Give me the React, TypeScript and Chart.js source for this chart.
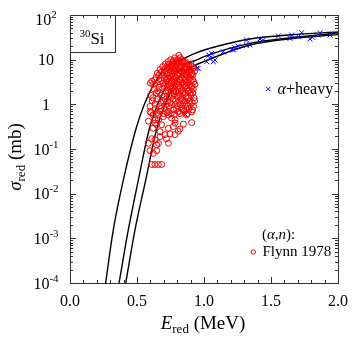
import React, { useEffect, useRef } from "react";
import { Chart, registerables } from "chart.js";
Chart.register(...registerables);

// ---- data ----
const xTickLabels = ["0.0", "0.5", "1.0", "1.5", "2.0"];
const xTickValues = [0, 0.5, 1.0, 1.5, 2.0];
const yTickExponents = [2, 1, 0, -1, -2, -3, -4];

const curve1E = [0.266, 0.323, 0.398, 0.49, 0.555, 0.645, 0.74, 0.85, 0.933, 1.1, 1.343, 1.65, 2.0];
const curve1S = [1e-4, 1.54e-3, 0.0202, 0.267, 1.0, 3.5, 7.6, 10.7, 13.9, 20, 29, 36, 41.6];
const curve2E = [0.366, 0.435, 0.51, 0.59, 0.655, 0.745, 0.86, 0.95, 1.0, 1.343, 1.65, 2.0];
const curve2S = [1e-4, 1.54e-3, 0.0202, 0.267, 1.0, 3.5, 7.6, 10, 11.7, 23.2, 31, 38.9];
const curve3E = [0.416, 0.485, 0.565, 0.645, 0.71, 0.8, 0.92, 1.0, 1.343, 1.65, 2.0];
const curve3S = [1e-4, 1.54e-3, 0.0202, 0.267, 1.0, 3.5, 7.1, 9.1, 21.3, 29.5, 36.3];

const flynn1978: [number, number][] = [
  [0.600, 3.0], [0.602, 1.6], [0.598, 0.9], [0.604, 0.65],
  [0.612, 3.3], [0.614, 1.2],
  [0.622, 2.8], [0.618, 1.4],
  [0.632, 3.5], [0.628, 2.2], [0.634, 1.0],
  [0.642, 4.0], [0.646, 1.8], [0.638, 0.8],
  [0.652, 5.0], [0.654, 2.0], [0.65, 1.3],
  [0.662, 4.5], [0.664, 2.4], [0.666, 0.9],
  [0.672, 6.0], [0.674, 2.8], [0.67, 1.8], [0.676, 1.1], [0.672, 0.7],
  [0.682, 5.2], [0.684, 3.4], [0.686, 1.6], [0.68, 0.8],
  [0.692, 7.0], [0.688, 4.5], [0.694, 3.0], [0.696, 1.2],
  [0.702, 6.0], [0.704, 3.8], [0.7, 2.5], [0.706, 1.5], [0.698, 0.62],
  [0.712, 8.0], [0.708, 5.5], [0.714, 4.2], [0.716, 2.0], [0.712, 1.3], [0.708, 0.8],
  [0.722, 7.0], [0.724, 4.8], [0.72, 3.4], [0.726, 2.4], [0.718, 1.0], [0.724, 0.65],
  [0.732, 9.0], [0.728, 6.5], [0.734, 5.0], [0.73, 3.8], [0.736, 2.8], [0.732, 2.0], [0.728, 1.2], [0.734, 0.7],
  [0.742, 8.0], [0.738, 6.0], [0.744, 4.4], [0.74, 3.2], [0.746, 2.2], [0.742, 1.5], [0.738, 0.9],
  [0.752, 10.0], [0.748, 7.0], [0.754, 5.5], [0.75, 4.0], [0.756, 2.6], [0.752, 1.8], [0.748, 1.1], [0.754, 0.62],
  [0.762, 8.5], [0.758, 6.5], [0.764, 4.8], [0.76, 3.5], [0.766, 2.4], [0.762, 1.6], [0.758, 1.0],
  [0.772, 9.5], [0.768, 7.5], [0.774, 5.8], [0.77, 4.2], [0.776, 3.0], [0.772, 2.0], [0.768, 1.3], [0.774, 0.75],
  [0.782, 11.0], [0.778, 8.0], [0.784, 6.5], [0.78, 5.0], [0.786, 3.6], [0.782, 2.5], [0.778, 1.7], [0.784, 1.0], [0.78, 0.6],
  [0.792, 9.0], [0.788, 7.0], [0.794, 5.5], [0.79, 4.0], [0.796, 2.8], [0.792, 1.9], [0.788, 1.2], [0.794, 0.8],
  [0.802, 10.0], [0.798, 8.0], [0.804, 6.0], [0.8, 4.5], [0.806, 3.2], [0.802, 2.2], [0.798, 1.5], [0.804, 0.9],
  [0.812, 12.5], [0.808, 9.0], [0.814, 7.0], [0.81, 5.0], [0.816, 3.6], [0.812, 2.6], [0.808, 1.8], [0.814, 1.1], [0.81, 0.7],
  [0.822, 11.0], [0.818, 8.5], [0.824, 6.5], [0.82, 4.8], [0.826, 3.4], [0.822, 2.4], [0.818, 1.6], [0.824, 1.0], [0.82, 0.62],
  [0.832, 10.0], [0.828, 7.5], [0.834, 5.5], [0.83, 4.0], [0.836, 3.0], [0.832, 2.0], [0.828, 1.3], [0.834, 0.8],
  [0.842, 9.5], [0.838, 7.0], [0.844, 5.2], [0.84, 3.8], [0.846, 2.7], [0.842, 1.8], [0.838, 1.2], [0.844, 0.75],
  [0.852, 8.5], [0.848, 6.5], [0.854, 4.8], [0.85, 3.5], [0.856, 2.5], [0.852, 1.7], [0.848, 1.1], [0.854, 0.7],
  [0.862, 9.0], [0.858, 7.0], [0.864, 5.0], [0.86, 3.6], [0.866, 2.6], [0.862, 1.8], [0.858, 1.2], [0.864, 0.8],
  [0.872, 8.0], [0.868, 6.0], [0.874, 4.5], [0.87, 3.2], [0.876, 2.3], [0.872, 1.5], [0.868, 1.0], [0.874, 0.62],
  [0.882, 7.5], [0.878, 5.5], [0.884, 4.0], [0.88, 3.0], [0.886, 2.0], [0.882, 1.4], [0.878, 0.9],
  [0.892, 7.0], [0.888, 5.0], [0.894, 3.8], [0.89, 2.7], [0.896, 1.8], [0.892, 1.2], [0.888, 0.8],
  [0.902, 8.0], [0.898, 6.0], [0.904, 4.5], [0.9, 3.4], [0.906, 2.4], [0.902, 1.6], [0.898, 1.0],
  [0.912, 7.0], [0.908, 5.0], [0.914, 3.6], [0.91, 2.6], [0.916, 1.8], [0.912, 1.1],
  [0.922, 6.5], [0.918, 4.6], [0.924, 3.2], [0.92, 2.2], [0.926, 1.4], [0.922, 0.9],
  [0.93, 5.5], [0.932, 2.8], [0.93, 1.2], [0.915, 0.75],
  // lower tail
  [0.908, 0.39], [0.908, 0.68], [0.87, 0.58], [0.584, 0.134], [0.61, 0.17], [0.66, 0.134],
  [0.672, 0.19], [0.709, 0.21], [0.72, 0.17], [0.734, 0.134], [0.746, 0.22], [0.784, 0.21],
  [0.808, 0.25], [0.82, 0.28], [0.734, 0.29], [0.771, 0.32], [0.784, 0.38], [0.846, 0.36],
  [0.684, 0.35], [0.66, 0.45], [0.634, 0.38], [0.62, 0.29], [0.66, 0.58], [0.696, 0.53],
  [0.734, 0.58], [0.759, 0.49], [0.784, 0.45], [0.647, 0.63], [0.808, 0.68], [0.597, 0.092],
  [0.647, 0.092], [0.597, 0.69], [0.62, 0.58], [0.634, 0.45], [0.647, 0.35], [0.672, 0.245],
  [0.634, 0.16], [0.647, 0.124], [0.622, 0.08], [0.585, 0.42],
  [0.61, 0.045], [0.634, 0.045], [0.659, 0.045], [0.684, 0.045],
];

const alphaHeavy: [number, number][] = [
  [0.957, 6.4], [0.946, 6.4], [1.02, 9.0], [1.037, 12.7], [1.045, 10.7], [1.057, 13.9], [1.07, 9.0],
  [1.082, 9.8], [1.144, 15], [1.207, 17], [1.22, 16.5], [1.231, 18.5], [1.256, 20], [1.318, 21],
  [1.343, 21.5], [1.318, 27.5], [1.418, 29], [1.443, 27.5], [1.555, 34], [1.642, 30], [1.654, 35.6],
  [1.704, 32.7], [1.729, 40], [1.79, 29], [1.81, 31.6], [1.853, 35.6], [1.866, 40], [1.94, 35.6],
  [0.86, 0.6],
];

const FONT = '"Liberation Serif", "Times New Roman", "DejaVu Serif", serif';

type Part = { t: string; size: number; dy?: number; italic?: boolean };

function drawRich(ctx: CanvasRenderingContext2D, parts: Part[], x: number, y: number, align: "left" | "center" | "right") {
  let w = 0;
  const widths: number[] = [];
  for (const p of parts) {
    ctx.font = `${p.italic ? "italic " : ""}${p.size}px ${FONT}`;
    const m = ctx.measureText(p.t).width;
    widths.push(m);
    w += m;
  }
  let cx = align === "left" ? x : align === "center" ? x - w / 2 : x - w;
  ctx.textAlign = "left";
  ctx.textBaseline = "alphabetic";
  parts.forEach((p, i) => {
    ctx.font = `${p.italic ? "italic " : ""}${p.size}px ${FONT}`;
    ctx.fillText(p.t, cx, y + (p.dy || 0));
    cx += widths[i];
  });
}

const decorPlugin = {
  id: "decor",
  afterDatasetsDraw(chart: any) {
    const ctx: CanvasRenderingContext2D = chart.ctx;
    const { left, right, top, bottom } = chart.chartArea;
    const xs = chart.scales.x;
    const ys = chart.scales.y;
    ctx.save();
    ctx.strokeStyle = "#333";
    ctx.lineWidth = 1;
    ctx.strokeRect(Math.round(left) + 0.5, Math.round(top) + 0.5, Math.round(right - left), Math.round(bottom - top));
    ctx.beginPath();
    for (let i = 0; i <= 20; i++) {
      const v = i / 10;
      const px = Math.round(xs.getPixelForValue(v)) + 0.5;
      const len = i % 5 === 0 ? 6 : 3;
      ctx.moveTo(px, bottom);
      ctx.lineTo(px, bottom - len);
      ctx.moveTo(px, top);
      ctx.lineTo(px, top + len);
    }
    for (let e = -4; e <= 2; e++) {
      for (let m = 1; m <= 9; m++) {
        if (e === 2 && m > 1) break;
        const v = m * Math.pow(10, e);
        const py = Math.round(ys.getPixelForValue(v)) + 0.5;
        const len = m === 1 ? 6 : 3;
        ctx.moveTo(left, py);
        ctx.lineTo(left + len, py);
        ctx.moveTo(right, py);
        ctx.lineTo(right - len, py);
      }
    }
    ctx.stroke();
    ctx.strokeRect(Math.round(left) + 0.5, Math.round(top) + 0.5, 45, 37);
    ctx.restore();

    ctx.save();
    ctx.fillStyle = "#000";
    xTickValues.forEach((v, i) => {
      drawRich(ctx, [{ t: xTickLabels[i], size: 16 }], xs.getPixelForValue(v), 306, "center");
    });
    yTickExponents.forEach((e) => {
      let py = ys.getPixelForValue(Math.pow(10, e));
      if (e === 2) py += 4;
      const base = py + 5.5;
      let parts: Part[];
      if (e === 0) parts = [{ t: "1", size: 16 }];
      else if (e === 1) parts = [{ t: "10", size: 16 }];
      else parts = [{ t: "10", size: 16 }, { t: e < 0 ? "-" + -e : String(e), size: 11, dy: -7 }];
      drawRich(ctx, parts, 46, base, "center");
    });
    drawRich(
      ctx,
      [
        { t: "E", size: 19, italic: true },
        { t: "red", size: 13, dy: 4 },
        { t: " (MeV)", size: 19 },
      ],
      203,
      329,
      "center"
    );
    ctx.save();
    ctx.translate(21, 157);
    ctx.rotate(-Math.PI / 2);
    drawRich(
      ctx,
      [
        { t: "σ", size: 19, italic: true },
        { t: "red", size: 13, dy: 4 },
        { t: " (mb)", size: 19 },
      ],
      0,
      0,
      "center"
    );
    ctx.restore();
    drawRich(ctx, [{ t: "30", size: 11, dy: -7 }, { t: "Si", size: 17 }], 92, 44, "center");
    ctx.strokeStyle = "#0000ff";
    ctx.lineWidth = 1;
    ctx.beginPath();
    ctx.moveTo(266.3, 87);
    ctx.lineTo(270.3, 91);
    ctx.moveTo(270.3, 87);
    ctx.lineTo(266.3, 91);
    ctx.stroke();
    drawRich(ctx, [{ t: "α", size: 16, italic: true }, { t: "+heavy", size: 16 }], 277.5, 94, "left");
    drawRich(
      ctx,
      [
        { t: "(", size: 15 },
        { t: "α", size: 15, italic: true },
        { t: ",", size: 15 },
        { t: "n", size: 15, italic: true },
        { t: "):", size: 15 },
      ],
      262,
      239,
      "left"
    );
    ctx.strokeStyle = "#ff0000";
    ctx.beginPath();
    ctx.arc(253.3, 252, 2.2, 0, Math.PI * 2);
    ctx.stroke();
    drawRich(ctx, [{ t: "Flynn 1978", size: 15 }], 262.5, 256, "left");
    ctx.restore();
  },
};

function toXY(es: number[], ss: number[]) {
  return es.map((e, i) => ({ x: e, y: ss[i] }));
}

export default function App() {
  const ref = useRef<HTMLCanvasElement | null>(null);
  useEffect(() => {
    document.body.style.margin = "0";
    const canvas = ref.current!;
    const curveStyle = {
      showLine: true,
      borderColor: "#000",
      borderWidth: 1.4,
      pointRadius: 0,
      fill: false,
      cubicInterpolationMode: "monotone" as const,
    };
    const chart = new Chart(canvas, {
      type: "scatter",
      data: {
        datasets: [
          {
            label: "Flynn 1978",
            data: flynn1978.map(([x, y]) => ({ x, y })),
            pointStyle: "circle",
            pointRadius: 3,
            borderColor: "#ff0000",
            backgroundColor: "rgba(0,0,0,0)",
            borderWidth: 1,
            order: 0,
          },
          {
            label: "alpha+heavy",
            data: alphaHeavy.map(([x, y]) => ({ x, y })),
            pointStyle: "crossRot",
            pointRadius: 3.5,
            borderColor: "#0000ff",
            borderWidth: 1,
            order: 1,
          },
          { label: "c1", data: toXY(curve1E, curve1S), ...curveStyle, order: 2 } as any,
          { label: "c2", data: toXY(curve2E, curve2S), ...curveStyle, order: 3 } as any,
          { label: "c3", data: toXY(curve3E, curve3S), ...curveStyle, order: 4 } as any,
        ],
      },
      options: {
        responsive: false,
        animation: false,
        devicePixelRatio: 1,
        layout: { padding: { left: 70, right: 15, top: 15, bottom: 55 } },
        plugins: { legend: { display: false }, tooltip: { enabled: false } },
        scales: {
          x: { type: "linear", min: 0, max: 2, display: false },
          y: { type: "logarithmic", min: 1e-4, max: 100, display: false },
        },
      },
      plugins: [decorPlugin],
    });
    return () => chart.destroy();
  }, []);
  return (
    <div style={{ position: "fixed", left: 0, top: 0, width: 353, height: 338, background: "#fff" }}>
      <canvas ref={ref} width={353} height={338} />
    </div>
  );
}
